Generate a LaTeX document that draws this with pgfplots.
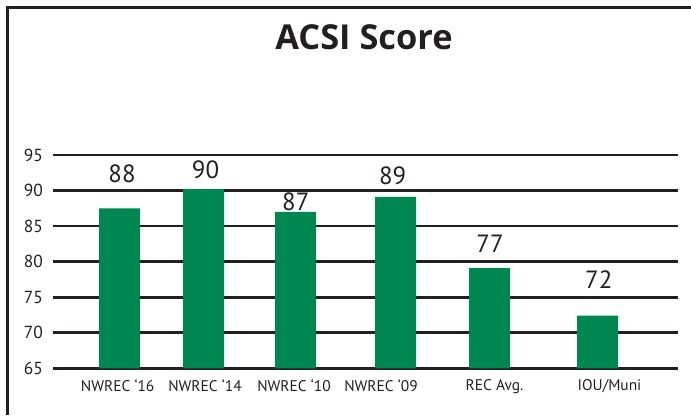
\documentclass[border=0pt]{standalone}
\usepackage{fontspec}
\setmainfont{PT Sans}
\newfontfamily\titlefont{Open Sans}
\usepackage{pgfplots}
\pgfplotsset{compat=1.18}
\definecolor{barg}{RGB}{0,135,81}
\definecolor{ink}{RGB}{35,31,32}
\begin{document}
\begin{tikzpicture}[x=1bp,y=1bp]
\useasboundingbox (0,0) rectangle (691,415);
\draw[ink, line width=2.5bp] (7.3,0) -- (7.3,407.7) -- (691,407.7);
\node[ink, font=\titlefont\fontsize{34.5}{38}\selectfont\bfseries] at (364,378) {ACSI Score};
\begin{axis}[
  at={(53bp,46.7bp)}, anchor=south west,
  scale only axis, width=625bp, height=213.3bp,
  xmin=53, xmax=678, ymin=65, ymax=95,
  axis x line*=bottom, axis y line*=left,
  axis line style={draw=none},
  ytick={65,70,...,95},
  ymajorgrids, grid style={ink, line width=2.7bp},
  major tick length=0pt,
  xtick={117.7,205,294,381,494.5,609.5},
  xticklabels={NWREC ‘16, NWREC ‘14, NWREC ‘10, NWREC ‘09, REC Avg., IOU/Muni},
  xticklabel style={font=\fontsize{15.5}{17}\selectfont, text=ink, inner sep=0pt, anchor=north},
  xticklabel shift=11bp,
  yticklabel style={font=\fontsize{17.5}{19}\selectfont, text=ink, inner sep=0pt, anchor=east},
  yticklabel shift=10bp,
  /pgf/number format/assume math mode=true,
  clip=false,
]
\addplot[ybar, bar width=41, bar shift=0pt, fill=barg, draw=none] coordinates {
  (119.5,87.5) (203.5,90.2) (295.5,87.0) (395.5,89.1) (489.5,79.1) (597.5,72.4)
};
\addplot[draw=none, mark=none, nodes near coords, point meta=explicit symbolic,
  nodes near coords style={anchor=center, inner sep=0pt, text=ink, font=\fontsize{25}{27}\selectfont}]
  coordinates {
  (122,92.39)[88] (205.5,92.89)[90] (295.8,88.45)[87] (392.7,92.04)[89] (490,82.54)[77] (598.8,77.46)[72]
};
\end{axis}
\end{tikzpicture}
\end{document}
